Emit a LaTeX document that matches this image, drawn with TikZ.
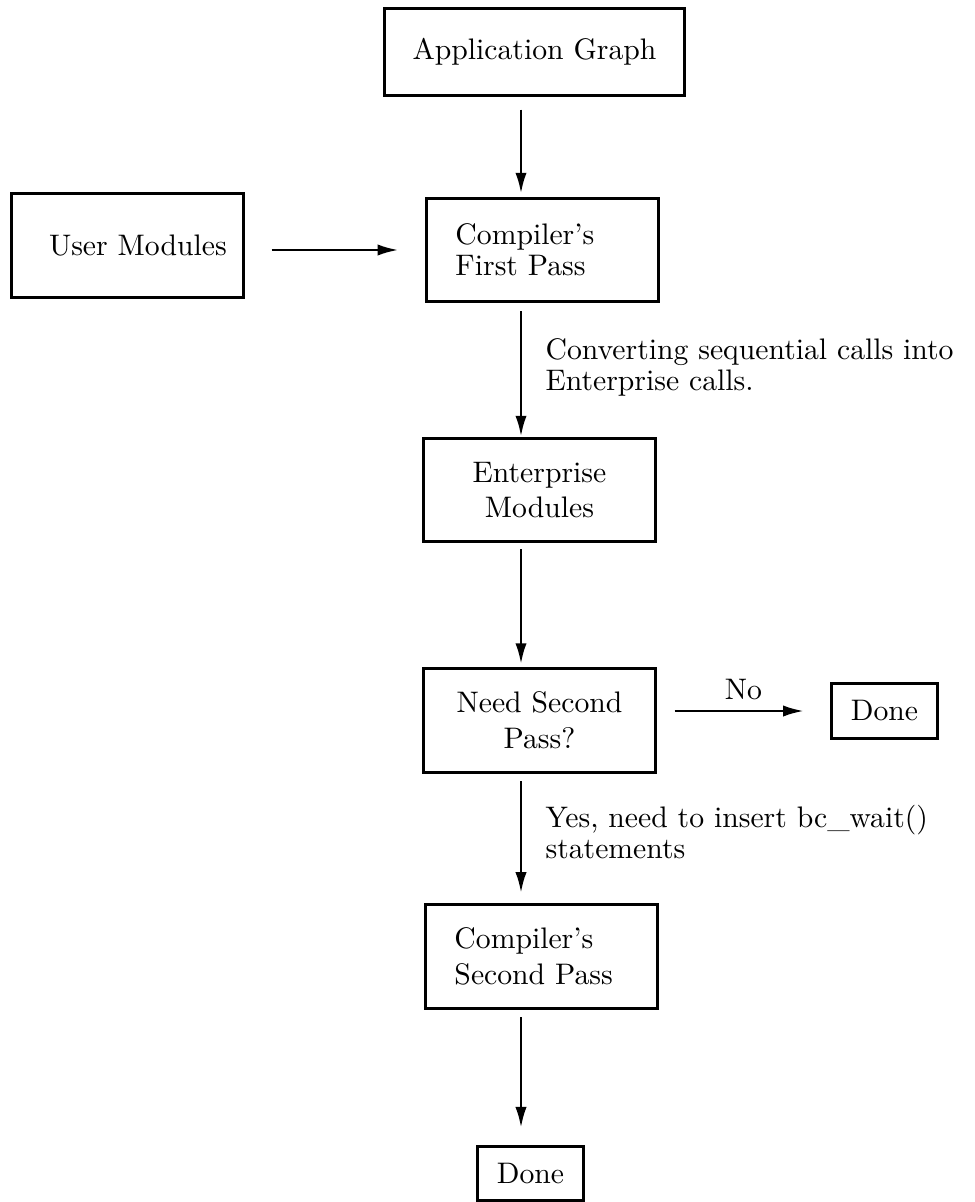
\documentclass[tikz,border=0pt]{standalone}
\usepackage{tikz}
\usetikzlibrary{arrows.meta}

\newcommand{\px}{0.3367pt}

\begin{document}
\begin{tikzpicture}[x=\px,y=-\px]
\useasboundingbox (0,0) rectangle (974,1202);
\begin{scope}[every node/.style={rectangle,draw,line width=1pt,inner sep=3pt},
              bigbox/.style={minimum width=78pt,minimum height=35pt},
              smallbox/.style={minimum width=35.7pt,minimum height=18.4pt},
              lbox/.style={align=left,inner xsep=9.7pt,text width=58.6pt}]
    \node[minimum width=100.7pt,minimum height=29pt] (app) at (534.5,52) {Application Graph};
    \node[bigbox] (user) at (127.5,245.5) {\hspace*{7pt}User Modules};
    \node[bigbox,lbox] (pass1) at (542.5,250) {Compiler's\\[-1.5pt]First Pass};
    \node[bigbox,align=center] (ent) at (539.5,490) {Enterprise\\Modules};
    \node[bigbox,align=center] (need) at (539.5,720.5) {Need Second\\Pass?};
    \node[smallbox] (done1) at (884.5,711) {Done};
    \node[bigbox,lbox] (pass2) at (541.5,956.5) {Compiler's\\Second Pass};
    \node[smallbox] (done2) at (530.5,1173.5) {Done};
\end{scope}
\begin{scope}[>={Latex[length=7pt,width=3.8pt]},
              line width=0.9pt,
              lbl/.style={right,align=left,xshift=4.5pt}]
    \coordinate (ax) at (521,0);
    \draw[->,shorten <=4.4pt,shorten >=1pt] (app.south -| ax) -- (pass1.north -| ax);
    \draw[->,shorten <=9pt,shorten >=9pt] (pass1.west -| user.east) -- (pass1.west);
    \draw[->,shorten <=2.7pt] (pass1.south -| ax) -- node[lbl,pos=0.48] {Converting sequential calls into\\[-1.5pt]Enterprise calls.} (ent.north -| ax);
    \draw[->,shorten <=2pt,shorten >=1pt] (ent.south -| ax) -- (need.north -| ax);
    \draw[->,shorten <=6pt,shorten >=8.8pt] (need.east |- done1.west) -- node[above] {No} (done1.west);
    \draw[->,shorten <=2.4pt,shorten >=3.4pt] (need.south -| ax) -- node[lbl,pos=0.45] {Yes, need to insert bc\_wait()\\[-1.5pt]statements} (pass2.north -| ax);
    \draw[->,shorten <=2.4pt,shorten >=5.7pt] (pass2.south -| ax) -- (done2.north -| ax);
\end{scope}
\end{tikzpicture}
\end{document}
